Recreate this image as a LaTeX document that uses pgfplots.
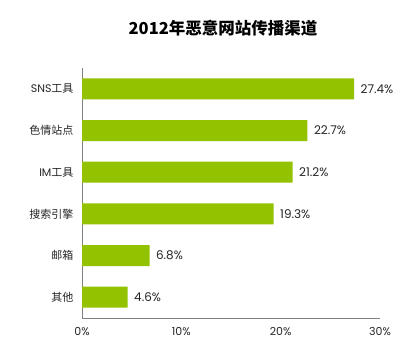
\documentclass[border=0pt]{standalone}
\usepackage{fontspec}
\setmainfont{Poppins}
\newfontfamily\cjk{Noto Sans CJK SC}
\usepackage{pgfplots}
\pgfplotsset{compat=1.18}
\definecolor{barg}{HTML}{93C200}
\begin{document}
\begin{tikzpicture}[x=1pt,y=1pt]
\fill[white] (0,0) rectangle (420,354);
\useasboundingbox (0,0) rectangle (420,354);
\node[font=\cjk\bfseries\fontsize{16.5}{18}\selectfont] at (223,326) {2012年恶意网站传播渠道};
\begin{axis}[
  at={(82pt,36pt)}, anchor=origin,
  scale only axis, width=298pt, height=250pt,
  xbar, bar width=21pt,
  xmin=0, xmax=30, ymin=0, ymax=6,
  axis lines*=left,
  axis line style={gray, line width=0.6pt, -},
  xtick={0,10,20,30},
  xticklabels={0\%,10\%,20\%,30\%},
  ytick={0.5,1.5,2.5,3.5,4.5,5.5},
  yticklabels={{\cjk 其他},{\cjk 邮箱},{\cjk 搜索引擎},IM{\cjk 工具},{\cjk 色情站点},SNS{\cjk 工具}},
  major tick length=0pt,
  tick label style={font=\fontsize{11}{13}\selectfont, text=black!85},
  /pgf/number format/assume math mode=true,
  yticklabel style={xshift=-5pt},
  xticklabel style={yshift=-6pt},
  nodes near coords={\pgfmathprintnumber[fixed,precision=1,fixed zerofill]{\pgfplotspointmeta}\%},
  nodes near coords style={font=\fontsize{12}{14}\selectfont, text=black!85, xshift=3pt},
  point meta=x,
]
\addplot[fill=barg, draw=none] coordinates {(4.6,0.5) (6.8,1.5) (19.3,2.5) (21.2,3.5) (22.7,4.5) (27.4,5.5)};
\end{axis}
\end{tikzpicture}
\end{document}
